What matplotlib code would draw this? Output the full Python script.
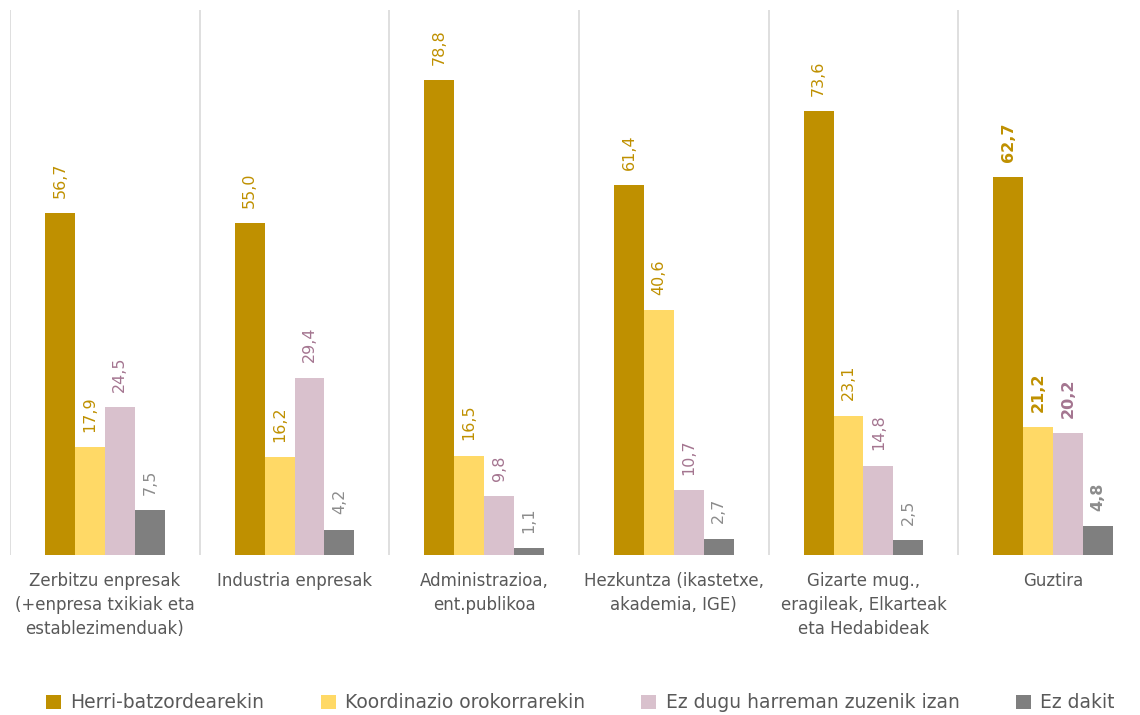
import matplotlib
matplotlib.use("Agg")
import matplotlib.pyplot as plt
from matplotlib.patches import Patch
import numpy as np

plt.rcParams['font.family'] = ['DejaVu Sans']

categories = ["Zerbitzu enpresak\n(+enpresa txikiak eta\nestablezimenduak)",
              "Industria enpresak",
              "Administrazioa,\nent.publikoa",
              "Hezkuntza (ikastetxe,\nakademia, IGE)",
              "Gizarte mug.,\neragileak, Elkarteak\neta Hedabideak",
              "Guztira"]
series_names = ["Herri-batzordearekin", "Koordinazio orokorrarekin",
                "Ez dugu harreman zuzenik izan", "Ez dakit"]
herri = [56.7, 55.0, 78.8, 61.4, 73.6, 62.7]
koord = [17.9, 16.2, 16.5, 40.6, 23.1, 21.2]
ez_dugu = [24.5, 29.4, 9.8, 10.7, 14.8, 20.2]
ez_dakit = [7.5, 4.2, 1.1, 2.7, 2.5, 4.8]
series = [herri, koord, ez_dugu, ez_dakit]

colors = ["#BF9000", "#FFD966", "#D9C1CD", "#7F7F7F"]
label_colors = ["#BF9000", "#BF9000", "#A47590", "#8C8C8C"]

fig = plt.figure(figsize=(11.4, 7.15), dpi=100)
ax = fig.add_axes([10/1140, 160/715, 1138/1140, 545/715])
x = np.arange(len(categories))
w = 0.158
for k, (vals, c, lc) in enumerate(zip(series, colors, label_colors)):
    pos = x + (k - 1.5) * w
    ax.bar(pos, vals, width=w, color=c, edgecolor='none', zorder=2)
    for i, (p, v) in enumerate(zip(pos, vals)):
        bold = (i == len(categories) - 1)
        ax.annotate(f"{v:.1f}".replace('.', ','), (p, v), xytext=(0, 11),
                    textcoords='offset points', rotation=90, ha='center', va='bottom',
                    color=lc, fontsize=11.5, fontweight='bold' if bold else 'normal')

for s in np.arange(-0.5, len(categories) + 0.5, 1.0):
    ax.axvline(s, color='#D9D9D9', lw=1.2, zorder=1)

ax.set_xlim(-0.5, len(categories) - 0.5)
ax.set_ylim(0, 90.4)
for sp in ax.spines.values():
    sp.set_visible(False)
ax.set_yticks([])
ax.set_xticks(x)
ax.set_xticklabels(categories, fontsize=12, color='#595959', linespacing=1.45)
ax.tick_params(axis='x', length=0, pad=12)

handles = [Patch(facecolor=c, edgecolor='none') for c in colors]
fig.legend(handles, series_names, loc='center', bbox_to_anchor=(0.509, 0.017),
           ncol=4, frameon=False, fontsize=13.5, labelcolor='#595959',
           handlelength=0.8, handleheight=0.8, handletextpad=0.5, columnspacing=3.0)

fig.savefig("out.png", dpi=100)
